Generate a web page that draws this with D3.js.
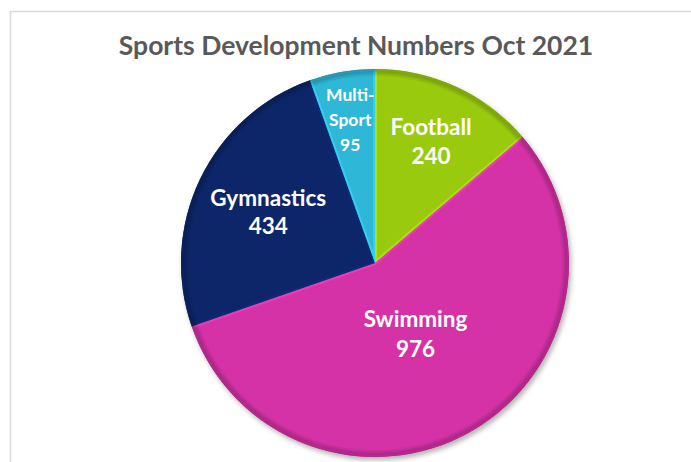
<!DOCTYPE html>
<html>
<head>
<meta charset="utf-8">
<script src="https://cdn.jsdelivr.net/npm/d3@7"></script>
<style>
  body { margin: 0; background: #fff; }
  svg { display: block; }
</style>
</head>
<body>
<script>
const WIDTH = 691;
const HEIGHT = 462;

const TITLE = "Sports Development Numbers Oct 2021";
const categories = ["Football", "Swimming", "Gymnastics", "Multi-Sport"];
const values = [240, 976, 434, 95];
const labelLines = [["Football"], ["Swimming"], ["Gymnastics"], ["Multi-", "Sport"]];
const colors = ["#9aca0e", "#d433a6", "#0b276a", "#2fb7d6"];

// where each label sits, as a fraction of the radius
const LABEL_RADIUS = [0.69, 0.42, 0.61, 0.75];
const LABEL_SIZE = [22.5, 22.5, 22.5, 17.5];
const LABEL_LINE_GAP = [29, 30, 28, 25];

const CX = 375;
const CY = 263;
const R = 194;

const svg = d3.select("body").append("svg")
  .attr("width", WIDTH)
  .attr("height", HEIGHT);

const defs = svg.append("defs");

const shadow = defs.append("filter")
  .attr("id", "shadow")
  .attr("x", "-10%").attr("y", "-10%")
  .attr("width", "120%").attr("height", "120%");
shadow.append("feDropShadow")
  .attr("dx", 2).attr("dy", 3)
  .attr("stdDeviation", 2.5)
  .attr("flood-color", "#000")
  .attr("flood-opacity", 0.3);

const rim = defs.append("radialGradient")
  .attr("id", "rim")
  .attr("gradientUnits", "userSpaceOnUse")
  .attr("cx", CX).attr("cy", CY).attr("r", R);
rim.append("stop").attr("offset", "0%").attr("stop-color", "#000").attr("stop-opacity", 0);
rim.append("stop").attr("offset", "96%").attr("stop-color", "#000").attr("stop-opacity", 0);
rim.append("stop").attr("offset", "100%").attr("stop-color", "#000").attr("stop-opacity", 0.3);

// chart area border
svg.append("rect")
  .attr("x", 10.5).attr("y", 11.5)
  .attr("width", 720).attr("height", 480)
  .attr("fill", "#fff")
  .attr("stroke", "#d9d9d9")
  .attr("stroke-width", 1.5);

svg.append("text")
  .attr("x", 356)
  .attr("y", 55)
  .attr("text-anchor", "middle")
  .attr("font-family", "Lato, 'Open Sans', sans-serif")
  .attr("font-weight", "bold")
  .attr("font-size", 26.5)
  .attr("fill", "#595959")
  .text(TITLE);

const pie = d3.pie().sort(null).value(d => d)(values);
const arc = d3.arc().innerRadius(0).outerRadius(R);

const g = svg.append("g")
  .attr("transform", `translate(${CX},${CY})`);

const slices = g.append("g").attr("filter", "url(#shadow)");

pie.forEach((p, i) => {
  defs.append("clipPath")
    .attr("id", `clip${i}`)
    .append("path")
    .attr("d", arc(p));
});

slices.selectAll("path.slice")
  .data(pie)
  .enter().append("path")
  .attr("class", "slice")
  .attr("d", arc)
  .attr("fill", (_, i) => colors[i]);

// soft bevel: lighter inner edge on every slice
slices.selectAll("path.bevel")
  .data(pie)
  .enter().append("path")
  .attr("class", "bevel")
  .attr("d", arc)
  .attr("fill", "none")
  .attr("clip-path", (_, i) => `url(#clip${i})`)
  .attr("stroke", (_, i) => d3.color(colors[i]).brighter(0.4))
  .attr("stroke-opacity", 0.8)
  .attr("stroke-width", 4)
  .attr("stroke-linejoin", "round");

// darker outer rim
svg.append("circle")
  .attr("cx", CX).attr("cy", CY)
  .attr("r", R)
  .attr("fill", "url(#rim)");

const labels = g.selectAll("text.label")
  .data(pie)
  .enter().append("text")
  .attr("class", "label")
  .attr("text-anchor", "middle")
  .attr("font-family", "Lato, 'Open Sans', sans-serif")
  .attr("font-weight", "bold")
  .attr("fill", "#fff")
  .attr("font-size", (_, i) => LABEL_SIZE[i])
  .attr("transform", (d, i) => {
    const a = (d.startAngle + d.endAngle) / 2;
    const r = R * LABEL_RADIUS[i];
    return `translate(${Math.sin(a) * r},${-Math.cos(a) * r})`;
  });

labels.each(function (d, i) {
  const lines = labelLines[i].concat([String(values[i])]);
  const gap = LABEL_LINE_GAP[i];
  const top = -((lines.length - 1) * gap) / 2;
  d3.select(this).selectAll("tspan")
    .data(lines)
    .enter().append("tspan")
    .attr("x", 0)
    .attr("y", (_, j) => top + j * gap)
    .attr("dy", "0.35em")
    .text(t => t);
});
</script>
</body>
</html>
